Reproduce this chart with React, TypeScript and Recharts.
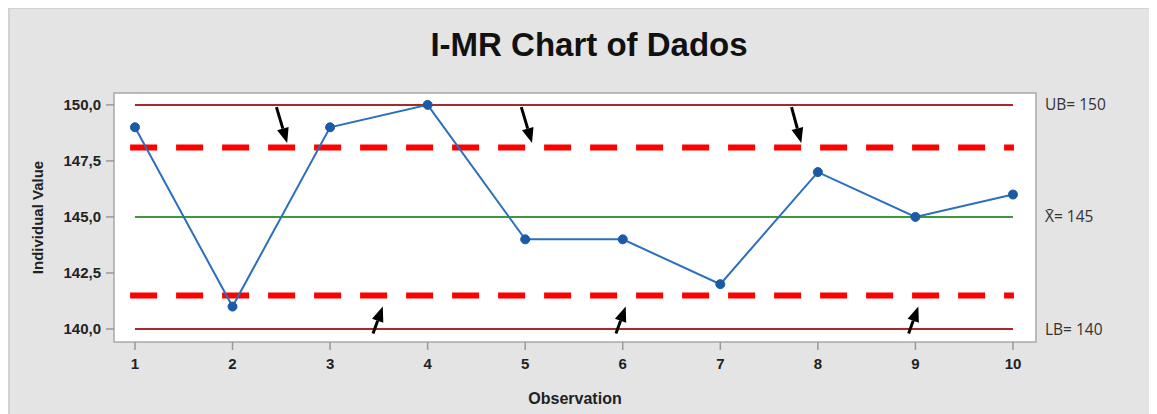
import React from 'react';
import { ComposedChart, Line, XAxis, YAxis, ReferenceLine, ReferenceArea, Label } from 'recharts';

const observations = [1, 2, 3, 4, 5, 6, 7, 8, 9, 10];
const individualValues = [149, 141, 149, 150, 144, 144, 142, 147, 145, 146];
const yTicks = [140, 142.5, 145, 147.5, 150];

const upperBound = 150;
const lowerBound = 140;
const mean = 145;
const upperWarn = 148.1;
const lowerWarn = 141.5;

// arrow annotations: [tailX, tailY, tipX, tipY] in data units
const downArrows = [
  [2.45, 149.9, 2.56, 148.3],
  [4.96, 149.9, 5.07, 148.3],
  [7.73, 149.9, 7.83, 148.3],
];
const upArrows = [
  [3.44, 139.8, 3.54, 141.0],
  [5.93, 139.8, 6.03, 141.0],
  [8.93, 139.8, 9.03, 141.0],
];

const data = observations.map((obs, i) => ({ obs, value: individualValues[i] }));

const arial = '"Liberation Sans", Arial, sans-serif';
const calibri = '"Open Sans", "Noto Sans", sans-serif';

const fmt = (v: number) => v.toFixed(1).replace('.', ',');

const Arrow = (props: any) => {
  const { x1, y1, x2, y2 } = props;
  const ang = Math.atan2(y2 - y1, x2 - x1);
  const len = 15;
  const half = 6;
  const bx = x2 - len * Math.cos(ang);
  const by = y2 - len * Math.sin(ang);
  const px = -Math.sin(ang) * half;
  const py = Math.cos(ang) * half;
  return (
    <g>
      <line x1={x1} y1={y1} x2={bx} y2={by} stroke="#000" strokeWidth={3} />
      <polygon points={`${x2},${y2} ${bx + px},${by + py} ${bx - px},${by - py}`} fill="#000" />
    </g>
  );
};

export default function App() {
  const W = 1149;
  const H = 406;
  const rightLabel = { position: 'right', offset: 32, fill: '#333', fontSize: 15.5, fontFamily: calibri };
  return (
    <div style={{ position: 'relative', width: W, height: H, background: '#e4e4e4', borderTop: '1px solid #d2d2d2', borderLeft: '2px solid #d2d2d2', boxSizing: 'border-box' }}>
      <div style={{ position: 'absolute', left: 0, top: 17, width: 1158, textAlign: 'center', fontFamily: arial, fontWeight: 'bold', fontSize: 33, color: '#111' }}>
        I-MR Chart of Dados
      </div>
      <div style={{ position: 'absolute', left: 0, top: 0 }}>
        <ComposedChart width={W - 2} height={H - 1} data={data} margin={{ top: 84, right: 121, bottom: 12, left: 20 }}>
          <XAxis
            dataKey="obs"
            type="number"
            domain={[0.785, 10.236]}
            ticks={observations}
            allowDataOverflow
            axisLine={false}
            tickLine={{ stroke: '#999', strokeWidth: 1.5 }}
            tickSize={8}
            tickMargin={8}
            tick={{ fontFamily: arial, fontWeight: 'bold', fontSize: 15, fill: '#222' }}
            height={60}
          >
            <Label value="Observation" position="insideBottom" offset={-2} style={{ fontFamily: arial, fontWeight: 'bold', fontSize: 16, fill: '#222' }} />
          </XAxis>
          <YAxis
            type="number"
            domain={[139.42, 150.53]}
            ticks={yTicks}
            allowDataOverflow
            tickFormatter={fmt}
            axisLine={false}
            tickLine={{ stroke: '#999', strokeWidth: 1.5 }}
            tickSize={8}
            tickMargin={5}
            tick={{ fontFamily: arial, fontWeight: 'bold', fontSize: 15, fill: '#222' }}
            width={84}
          >
            <Label value="Individual Value" angle={-90} position="insideLeft" offset={8} style={{ textAnchor: 'middle', fontFamily: arial, fontWeight: 'bold', fontSize: 15, fill: '#222' }} />
          </YAxis>
          <ReferenceArea x1={0.785} x2={10.236} y1={139.42} y2={150.53} fill="#fff" fillOpacity={1} stroke="#a8a8a8" strokeWidth={1.5} />
          <ReferenceLine
            segment={[{ x: 1, y: upperBound }, { x: 10, y: upperBound }]}
            stroke="#a52a2a"
            strokeWidth={2}
            label={{ ...rightLabel, value: `UB= ${upperBound}` }}
          />
          <ReferenceLine
            segment={[{ x: 1, y: lowerBound }, { x: 10, y: lowerBound }]}
            stroke="#a52a2a"
            strokeWidth={2}
            label={{ ...rightLabel, value: `LB= ${lowerBound}` }}
          />
          <ReferenceLine
            segment={[{ x: 1, y: mean }, { x: 10, y: mean }]}
            stroke="#3c9a3c"
            strokeWidth={2}
            label={{ ...rightLabel, value: `X\u0304= ${mean}` }}
          />
          <ReferenceLine
            segment={[{ x: 0.95, y: upperWarn }, { x: 10.01, y: upperWarn }]}
            stroke="#ff0000"
            strokeWidth={6}
            strokeDasharray="27 19"
          />
          <ReferenceLine
            segment={[{ x: 0.95, y: lowerWarn }, { x: 10.01, y: lowerWarn }]}
            stroke="#ff0000"
            strokeWidth={6}
            strokeDasharray="27 19"
          />
          {[...downArrows, ...upArrows].map((a, i) => (
            <ReferenceLine
              key={`arrow-${i}`}
              segment={[{ x: a[0], y: a[1] }, { x: a[2], y: a[3] }]}
              ifOverflow="visible"
              shape={Arrow}
            />
          ))}
          <Line
            type="linear"
            dataKey="value"
            stroke="#2b6fbd"
            strokeWidth={2}
            dot={{ r: 4.5, fill: '#1a5aa6', stroke: '#1a5aa6', strokeWidth: 1 }}
            isAnimationActive={false}
          />
        </ComposedChart>
      </div>
    </div>
  );
}
